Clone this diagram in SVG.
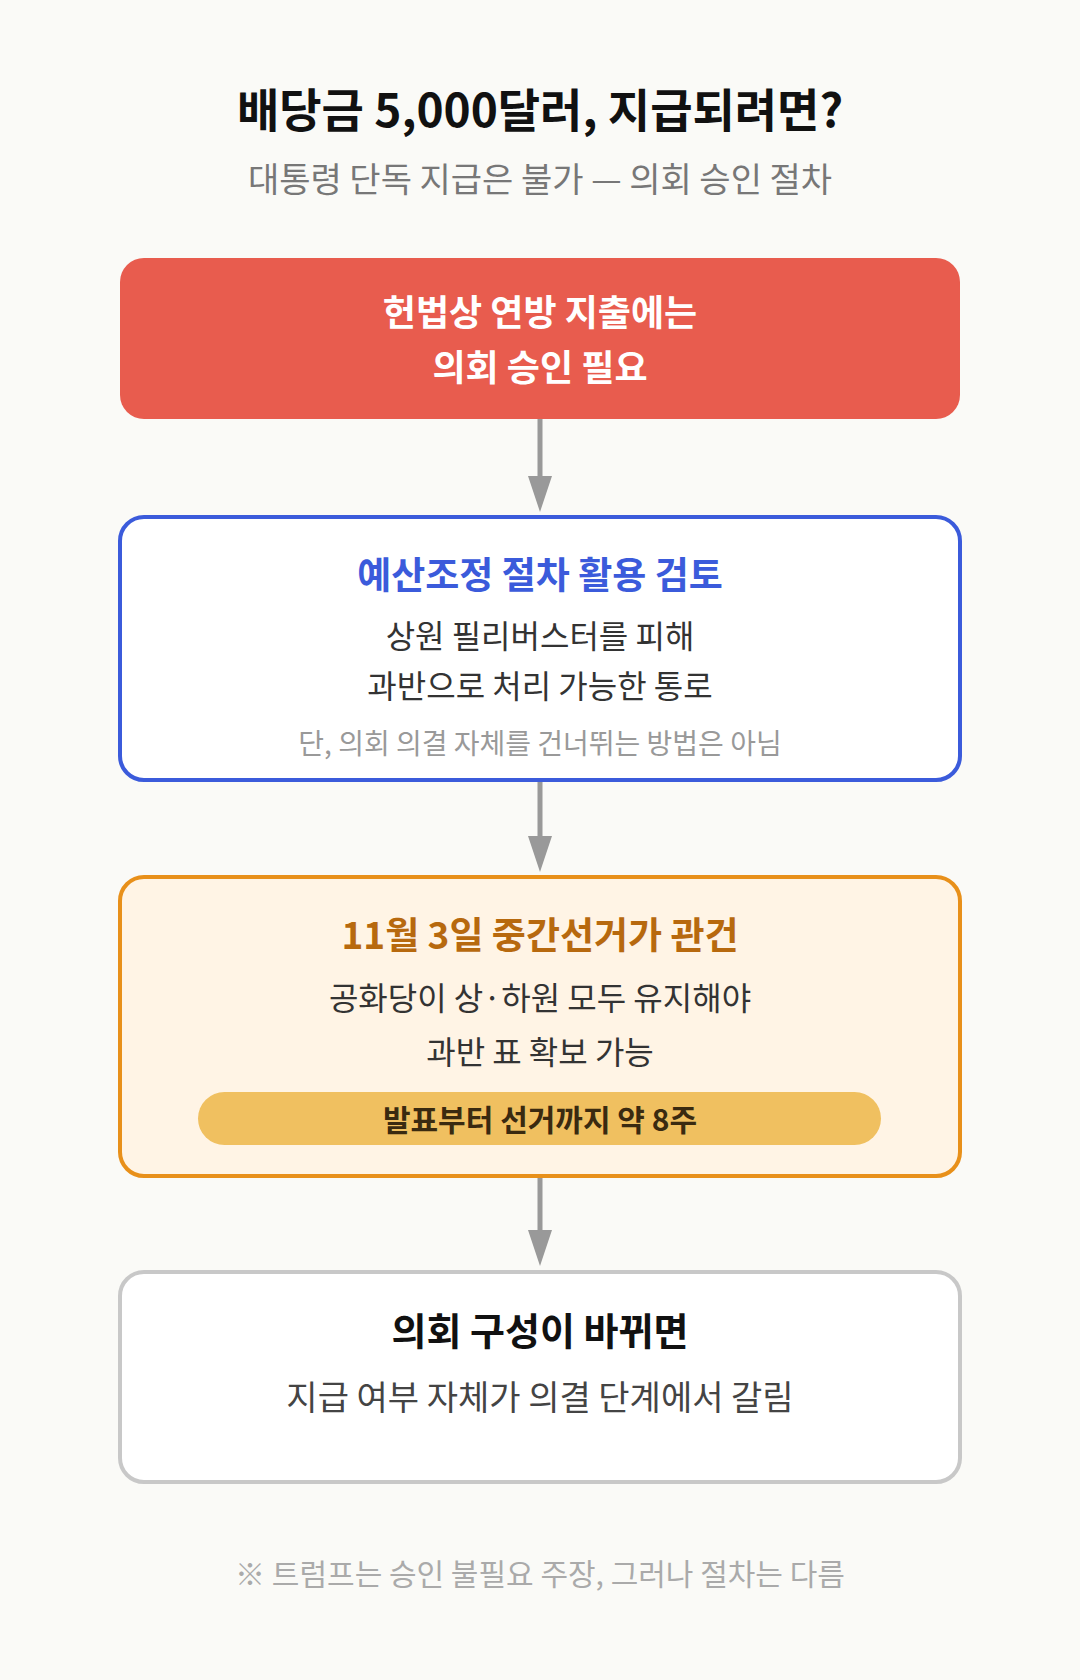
<svg xmlns="http://www.w3.org/2000/svg" width="1080" height="1680" viewBox="0 0 1080 1680">
<style>
text{font-family:"Noto Sans CJK KR","Noto Sans",sans-serif;text-anchor:middle;dominant-baseline:central}
.b{font-weight:700}
.conn line{stroke:#999;stroke-width:5}
</style>
<defs><marker id="ah" markerWidth="10" markerHeight="8" refX="1" refY="4" orient="auto" markerUnits="userSpaceOnUse" viewBox="0 0 10 8"><path d="M0,0L10,4L0,8z" fill="#999"/></marker>
<marker id="a" viewBox="0 0 36 24" refX="0" refY="12" markerWidth="36" markerHeight="24" markerUnits="userSpaceOnUse" orient="auto"><path d="M0,0L36,12L0,24z" fill="#999"/></marker></defs>
<rect width="1080" height="1680" fill="#FAFAF7"/>
<g id="title"><text x="540" y="107" class="b" font-size="46" fill="#111">배당금 5,000달러, 지급되려면?</text>
<text x="540" y="177" font-size="34" fill="#777">대통령 단독 지급은 불가 — 의회 승인 절차</text></g>
<g class="conn">
<line x1="540" y1="419" x2="540" y2="476" marker-end="url(#a)"/>
<line x1="540" y1="780" x2="540" y2="836" marker-end="url(#a)"/>
<line x1="540" y1="1176" x2="540" y2="1230" marker-end="url(#a)"/>
</g>
<g id="n1"><rect x="120" y="258" width="840" height="161" rx="24" fill="#E85C4E"/>
<text x="540" y="310" class="b" font-size="36" fill="#fff">헌법상 연방 지출에는</text>
<text x="540" y="365" class="b" font-size="36" fill="#fff">의회 승인 필요</text></g>
<g id="n2"><rect x="120" y="517" width="840" height="263" rx="24" fill="#fff" stroke="#3B5BDB" stroke-width="4"/>
<text x="540" y="573" class="b" font-size="37" fill="#3B5BDB">예산조정 절차 활용 검토</text>
<text x="540" y="634" font-size="32" fill="#333">상원 필리버스터를 피해</text>
<text x="540" y="684" font-size="32" fill="#333">과반으로 처리 가능한 통로</text>
<text x="540" y="742" font-size="28" fill="#999">단, 의회 의결 자체를 건너뛰는 방법은 아님</text></g>
<g id="n3"><rect x="120" y="877" width="840" height="299" rx="24" fill="#FFF4E5" stroke="#E8901A" stroke-width="4"/>
<text x="540" y="933" class="b" font-size="37" fill="#B7690E">11월 3일 중간선거가 관건</text>
<text x="540" y="996" font-size="32" fill="#333">공화당이 상·하원 모두 유지해야</text>
<text x="540" y="1050" font-size="32" fill="#333">과반 표 확보 가능</text>
<rect x="198" y="1092" width="683" height="53" rx="26.5" fill="#F0C060"/>
<text x="540" y="1118" class="b" font-size="30" fill="#3a2a10">발표부터 선거까지 약 8주</text></g>
<g id="n4"><rect x="120" y="1272" width="840" height="210" rx="24" fill="#fff" stroke="#C8C8C8" stroke-width="4"/>
<text x="540" y="1328" class="b" font-size="38" fill="#111">의회 구성이 바뀌면</text>
<text x="540" y="1395" font-size="34" fill="#444">지급 여부 자체가 의결 단계에서 갈림</text></g>
<g id="footer"><text x="540" y="1572" font-size="30" fill="#AAA">※ 트럼프는 승인 불필요 주장, 그러나 절차는 다름</text></g>
</svg>
